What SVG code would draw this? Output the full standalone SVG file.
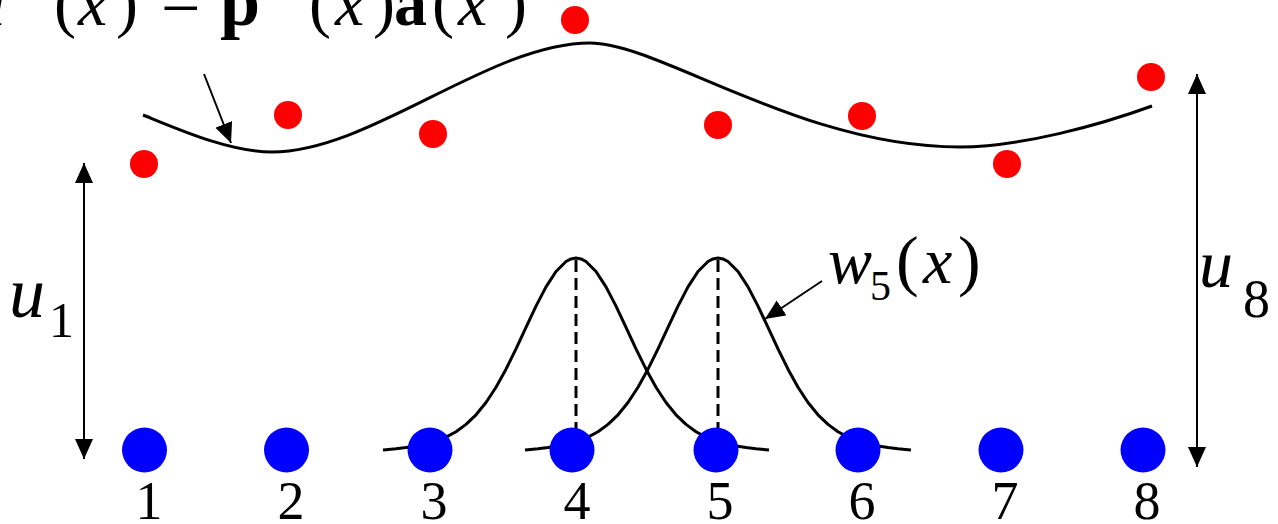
<svg xmlns="http://www.w3.org/2000/svg" xmlns:xlink="http://www.w3.org/1999/xlink" width="1278" height="524" viewBox="0 0 1278 524">
  <style>
    text { font-family: "Times New Roman", "Liberation Serif", "DejaVu Serif", serif; fill: #000; }
    .it { font-style: italic; }
    .bd { font-weight: bold; }
    .num { font-size: 54px; text-anchor: middle; }
    .blue { fill: #0000ff; }
    .red { fill: #ff0000; }
    .curve { fill: none; stroke: #000; stroke-width: 3; stroke-linejoin: round; stroke-linecap: butt; }
    .dash { fill: none; stroke: #000; stroke-width: 3; stroke-dasharray: 12 6; }
    .arrow { fill: none; stroke: #000; stroke-width: 2; }
  </style>
  <defs>
    <marker id="ah" markerUnits="userSpaceOnUse" markerWidth="22" markerHeight="20" refX="20" refY="9" orient="auto-start-reverse" viewBox="0 0 22 20">
      <path d="M0,0 L20,9 L0,18 z" fill="#000"/>
    </marker>
    <path id="bump" d="M-193,450 L-190,449.7 -180,448.8 -170,447.6 -160,446 -150,443.9 -140,441 -130,437.1 -120,431.7 -110,424.4 -100,414.8 -90,402.5 -80,387.2 -70,369.2 -60,348.9 -50,327.4 -40,306.1 -30,286.9 -20,271.5 -10,261.5 -5,258.9 0,258 5,258.9 10,261.5 20,271.5 30,286.9 40,306.1 50,327.4 60,348.9 70,369.2 80,387.2 90,402.5 100,414.8 110,424.4 120,431.7 130,437.1 140,441 150,443.9 160,446 170,447.6 180,448.8 190,449.7 193,450"/>
    <clipPath id="eqclip"><rect x="150" y="5" width="70" height="40"/></clipPath>
  </defs>

  <g id="approx-curve">
    <path class="curve" d="M143,115 C180,130 230,152 272,152 C370,152 490,43 590,43 C660,43 800,147 960,147 C1020,147 1100,125 1152,106"/>
  </g>

  <g id="weight-functions">
    <use xlink:href="#bump" class="curve" transform="translate(576,0)"/>
    <use xlink:href="#bump" class="curve" transform="translate(718,0)"/>
    <line class="dash" x1="576" y1="260" x2="576" y2="454"/>
    <line class="dash" x1="718" y1="260" x2="718" y2="454"/>
  </g>

  <g id="red-points">
    <circle class="red" cx="144" cy="164" r="14"/>
    <circle class="red" cx="288" cy="115" r="14"/>
    <circle class="red" cx="433" cy="134" r="14"/>
    <circle class="red" cx="575" cy="20" r="14"/>
    <circle class="red" cx="718" cy="125" r="14"/>
    <circle class="red" cx="862" cy="116" r="14"/>
    <circle class="red" cx="1007" cy="164" r="14"/>
    <circle class="red" cx="1151" cy="77" r="14"/>
  </g>

  <g id="node-1"><circle class="blue" cx="144.5" cy="450" r="22.5"/><text class="num" x="149" y="519">1</text></g>
  <g id="node-2"><circle class="blue" cx="286.5" cy="450" r="22.5"/><text class="num" x="291" y="519">2</text></g>
  <g id="node-3"><circle class="blue" cx="430" cy="450" r="22.5"/><text class="num" x="434" y="519">3</text></g>
  <g id="node-4"><circle class="blue" cx="572" cy="450" r="22.5"/><text class="num" x="577" y="519">4</text></g>
  <g id="node-5"><circle class="blue" cx="716" cy="450" r="22.5"/><text class="num" x="720" y="519">5</text></g>
  <g id="node-6"><circle class="blue" cx="858" cy="450" r="22.5"/><text class="num" x="862" y="519">6</text></g>
  <g id="node-7"><circle class="blue" cx="1001" cy="450" r="22.5"/><text class="num" x="1005" y="519">7</text></g>
  <g id="node-8"><circle class="blue" cx="1143" cy="450" r="22.5"/><text class="num" x="1147" y="519">8</text></g>

  <g id="connectors">
    <line class="arrow" x1="204" y1="74" x2="231" y2="143" marker-end="url(#ah)"/>
    <line class="arrow" x1="822" y1="281" x2="765" y2="319" marker-end="url(#ah)"/>
    <line class="arrow" x1="84" y1="163" x2="84" y2="459" marker-start="url(#ah)" marker-end="url(#ah)"/>
    <line class="arrow" x1="1197" y1="74" x2="1197" y2="467" marker-start="url(#ah)" marker-end="url(#ah)"/>
  </g>

  <g id="label-formula">
    <text class="it" x="-28" y="25" font-size="66">u</text>
    <text class="it" x="10" y="-6" font-size="46">h</text>
    <text x="54" y="25" font-size="66">(</text>
    <text class="it" x="78" y="25" font-size="66">x</text>
    <text x="116" y="25" font-size="66">)</text>
    <text x="161" y="25" font-size="70" clip-path="url(#eqclip)">=</text>
    <text class="bd" x="220" y="25" font-size="72">p</text>
    <text x="268" y="-6" font-size="46">T</text>
    <text x="309" y="25" font-size="66">(</text>
    <text class="it" x="335" y="25" font-size="66">x</text>
    <text x="373" y="25" font-size="66">)</text>
    <text class="bd" x="394" y="25" font-size="66">a</text>
    <text x="432" y="25" font-size="66">(</text>
    <text class="it" x="458" y="25" font-size="66">x</text>
    <text x="505" y="25" font-size="66">)</text>
  </g>
  <g id="label-w5">
    <text class="it" x="828" y="283" font-size="66">w</text>
    <text x="870" y="300" font-size="42">5</text>
    <text x="896" y="283" font-size="68">(</text>
    <text class="it" x="923" y="283" font-size="66">x</text>
    <text x="958" y="283" font-size="68">)</text>
  </g>
  <g id="label-u1">
    <text class="it" x="9" y="317" font-size="72">u</text>
    <text x="49" y="337" font-size="50">1</text>
  </g>
  <g id="label-u8">
    <text class="it" x="1199" y="287" font-size="68">u</text>
    <text x="1243" y="317" font-size="54">8</text>
  </g>
</svg>
